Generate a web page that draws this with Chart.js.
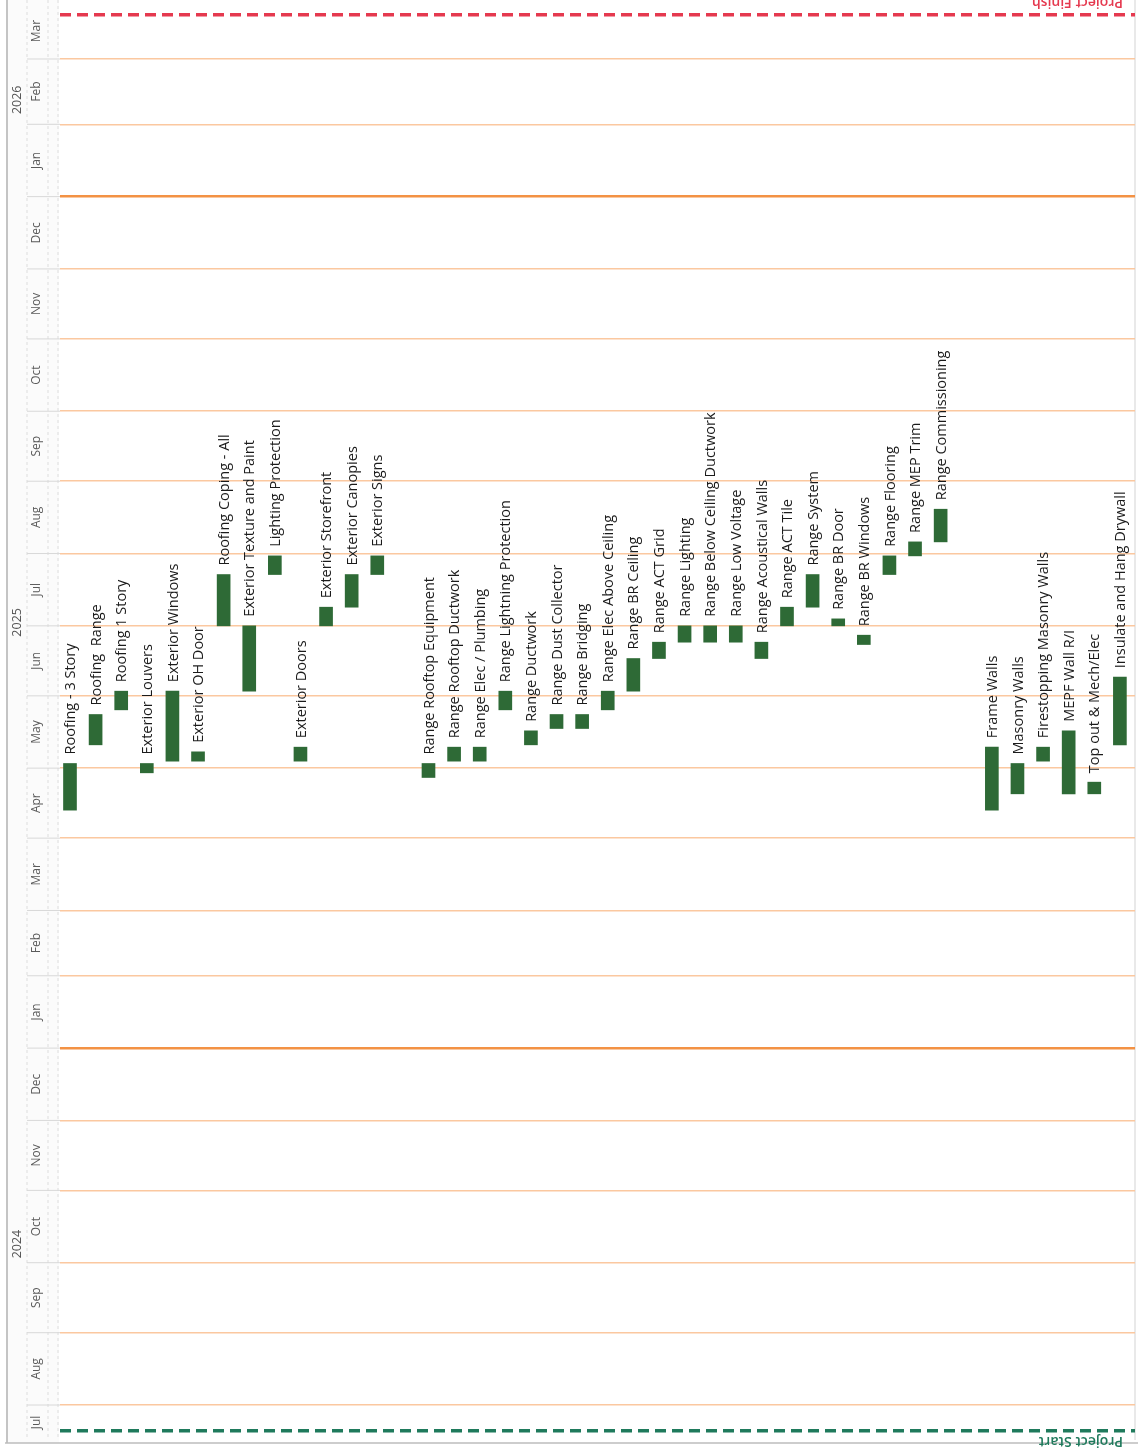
<!DOCTYPE html>
<html>
<head>
<meta charset="utf-8">
<script src="https://cdn.jsdelivr.net/npm/chart.js@4.4.0/dist/chart.umd.min.js"></script>
<style>
  html, body { margin: 0; padding: 0; background: #fff; }
  #wrap { width: 1138px; height: 1448px; }
</style>
</head>
<body>
<div id="wrap"><canvas id="gantt" width="1138" height="1448"></canvas></div>
<script>
// task names, in column order (three groups)
const taskNames = [
  'Roofing - 3 Story', 'Roofing  Range', 'Roofing 1 Story', 'Exterior Louvers', 'Exterior Windows',
  'Exterior OH Door', 'Roofing Coping - All', 'Exterior Texture and Paint', 'Lighting Protection',
  'Exterior Doors', 'Exterior Storefront', 'Exterior Canopies', 'Exterior Signs',

  'Range Rooftop Equipment', 'Range Rooftop Ductwork', 'Range Elec / Plumbing', 'Range Lightning Protection',
  'Range Ductwork', 'Range Dust Collector', 'Range Bridging', 'Range Elec Above Ceiling', 'Range BR Ceiling',
  'Range ACT Grid', 'Range Lighting', 'Range Below Ceiling Ductwork', 'Range Low Voltage',
  'Range Acoustical Walls', 'Range ACT Tile', 'Range System', 'Range BR Door', 'Range BR Windows',
  'Range Flooring', 'Range MEP Trim', 'Range Commissioning',

  'Frame Walls', 'Masonry Walls', 'Firestopping Masonry Walls', 'MEPF Wall R/I', 'Top out & Mech/Elec',
  'Insulate and Hang Drywall'
];
const taskStarts = [
  '2025-04-13', '2025-05-11', '2025-05-26', '2025-04-29', '2025-05-04',
  '2025-05-04', '2025-07-01', '2025-06-03', '2025-07-23',
  '2025-05-04', '2025-07-01', '2025-07-09', '2025-07-23',

  '2025-04-27', '2025-05-04', '2025-05-04', '2025-05-26',
  '2025-05-11', '2025-05-18', '2025-05-18', '2025-05-26', '2025-06-03',
  '2025-06-17', '2025-06-24', '2025-06-24', '2025-06-24',
  '2025-06-17', '2025-07-01', '2025-07-09', '2025-07-01', '2025-06-23',
  '2025-07-23', '2025-07-31', '2025-08-06',

  '2025-04-13', '2025-04-20', '2025-05-04', '2025-04-20', '2025-04-20',
  '2025-05-11'
];
const taskEnds = [
  '2025-05-03', '2025-05-24', '2025-06-03', '2025-05-03', '2025-06-03',
  '2025-05-08', '2025-07-23', '2025-07-01', '2025-07-31',
  '2025-05-10', '2025-07-09', '2025-07-23', '2025-07-31',

  '2025-05-03', '2025-05-10', '2025-05-10', '2025-06-03',
  '2025-05-17', '2025-05-24', '2025-05-24', '2025-06-03', '2025-06-17',
  '2025-06-24', '2025-07-01', '2025-07-01', '2025-07-01',
  '2025-06-24', '2025-07-09', '2025-07-23', '2025-07-04', '2025-06-27',
  '2025-07-31', '2025-08-06', '2025-08-20',

  '2025-05-10', '2025-05-03', '2025-05-10', '2025-05-17', '2025-04-25',
  '2025-06-09'
];
const groupSizes = [13, 21, 6];

const monthNames = ['Jan', 'Feb', 'Mar', 'Apr', 'May', 'Jun', 'Jul', 'Aug', 'Sep', 'Oct', 'Nov', 'Dec'];
const axisStart = '2024-07-17';
const axisEnd = '2026-03-25';
const projectStart = '2024-07-21';
const projectFinish = '2026-03-20';

// dates -> day numbers
function dayNum(s) {
  const p = s.split('-').map(Number);
  return Date.UTC(p[0], p[1] - 1, p[2]) / 86400000;
}
function dayOf(y, m) { return Date.UTC(y, m, 1) / 86400000; }

const minDay = dayNum(axisStart);
const maxDay = dayNum(axisEnd);

// column slot for each task, one empty slot between groups
const slots = [];
let s = 0;
groupSizes.forEach(n => {
  for (let i = 0; i < n; i++) slots.push(s++);
  s++;
});

// month boundaries and month / year label spans
const monthSpans = [];
for (let y = 2024; y <= 2026; y++) {
  for (let m = 0; m < 12; m++) {
    const a = dayOf(y, m), b = dayOf(y, m + 1);
    if (b <= minDay || a >= maxDay) continue;
    monthSpans.push({ y: y, m: m, from: Math.max(a, minDay), to: Math.min(b, maxDay), start: a });
  }
}
const boundaries = monthSpans.map(o => o.start).filter(v => v > minDay);

const barColor = '#2e6a36';

const ganttDecor = {
  id: 'ganttDecor',
  beforeDraw(chart) {
    const c = chart.ctx, area = chart.chartArea;
    const ys = chart.scales.y;
    c.save();
    // left date panel
    c.fillStyle = '#fbfbfb';
    c.fillRect(7, 0, area.left - 8, area.bottom + 3);
    c.strokeStyle = '#c4c4c4';
    c.lineWidth = 2;
    c.beginPath(); c.moveTo(7, 0); c.lineTo(7, area.bottom + 3); c.stroke();
    c.strokeStyle = '#dedede';
    c.lineWidth = 1;
    c.setLineDash([3, 3]);
    [27, 48, area.left - 2].forEach(x => {
      c.beginPath(); c.moveTo(x, 0); c.lineTo(x, area.bottom); c.stroke();
    });
    c.setLineDash([]);
    boundaries.forEach(v => {
      const py = ys.getPixelForValue(v);
      c.strokeStyle = '#d8d8d8';
      c.beginPath(); c.moveTo(27, py); c.lineTo(area.left, py); c.stroke();
    });
    // frame lines
    c.strokeStyle = '#bdbdbd';
    c.lineWidth = 1.5;
    c.beginPath(); c.moveTo(5, area.bottom + 3); c.lineTo(chart.width, area.bottom + 3); c.stroke();
    c.strokeStyle = '#e2e2e2';
    c.beginPath(); c.moveTo(area.right, 0); c.lineTo(area.right, area.bottom); c.stroke();
    c.restore();
  },
  afterDatasetsDraw(chart) {
    const c = chart.ctx, area = chart.chartArea;
    const ys = chart.scales.y;
    c.save();

    // month labels
    c.fillStyle = '#5a5a5a';
    c.font = '12px "Open Sans", sans-serif';
    c.textAlign = 'center';
    c.textBaseline = 'middle';
    monthSpans.forEach(o => {
      const py = (ys.getPixelForValue(o.from) + ys.getPixelForValue(o.to)) / 2;
      c.save();
      c.translate(37, py);
      c.rotate(-Math.PI / 2);
      c.fillText(monthNames[o.m], 0, 0);
      c.restore();
    });
    // year labels
    c.fillStyle = '#555';
    c.font = '12.5px "Open Sans", sans-serif';
    [2024, 2025, 2026].forEach(yr => {
      const a = Math.max(dayOf(yr, 0), minDay), b = Math.min(dayOf(yr + 1, 0), maxDay);
      const py = (ys.getPixelForValue(a) + ys.getPixelForValue(b)) / 2;
      c.save();
      c.translate(17, py);
      c.rotate(-Math.PI / 2);
      c.fillText(String(yr), 0, 0);
      c.restore();
    });

    // task labels above bars
    c.fillStyle = '#1b1b1b';
    c.font = '14.5px "Open Sans", sans-serif';
    c.textAlign = 'left';
    c.textBaseline = 'middle';
    chart.getDatasetMeta(0).data.forEach((bar, i) => {
      const top = Math.min(bar.y, bar.base);
      c.save();
      c.translate(bar.x + 1, top - 9);
      c.rotate(-Math.PI / 2);
      c.fillText(taskNames[i], 0, 0);
      c.restore();
    });

    // project start / finish
    const lines = [
      { v: dayNum(projectStart), color: '#1f7a5c', text: 'Project Start', below: true },
      { v: dayNum(projectFinish), color: '#e5394f', text: 'Project Finish', below: false }
    ];
    lines.forEach(l => {
      const py = ys.getPixelForValue(l.v);
      c.strokeStyle = l.color;
      c.lineWidth = 3.5;
      c.setLineDash([11, 6]);
      c.beginPath(); c.moveTo(area.left, py); c.lineTo(area.right, py); c.stroke();
      c.setLineDash([]);
      c.fillStyle = l.color;
      c.font = '600 14px "Open Sans", sans-serif';
      c.textAlign = 'left';
      c.textBaseline = 'alphabetic';
      c.save();
      c.translate(area.right - 12, l.below ? py + 6 : py - 17);
      c.rotate(Math.PI);
      c.fillText(l.text, 0, 0);
      c.restore();
    });
    c.restore();
  }
};

new Chart(document.getElementById('gantt'), {
  type: 'bar',
  data: {
    datasets: [{
      label: 'Tasks',
      data: taskNames.map((n, i) => ({ x: slots[i], y: [dayNum(taskStarts[i]), dayNum(taskEnds[i])] })),
      backgroundColor: barColor,
      borderWidth: 0,
      barThickness: 13
    }]
  },
  options: {
    responsive: false,
    animation: false,
    layout: { padding: { left: 60, right: 3, top: 3, bottom: 8 } },
    plugins: {
      legend: { display: false },
      tooltip: { enabled: false }
    },
    scales: {
      x: {
        type: 'linear',
        display: false,
        offset: false,
        min: -0.39,
        max: 41.59
      },
      y: {
        type: 'linear',
        min: minDay,
        max: maxDay,
        afterBuildTicks: axis => { axis.ticks = boundaries.map(v => ({ value: v })); },
        ticks: { display: false },
        border: { display: false },
        grid: {
          drawTicks: false,
          color: ctx => (new Date(ctx.tick.value * 86400000).getUTCMonth() === 0 ? '#f39244' : '#fbc8a0'),
          lineWidth: ctx => (new Date(ctx.tick.value * 86400000).getUTCMonth() === 0 ? 2.5 : 1.5)
        }
      }
    }
  },
  plugins: [ganttDecor]
});
</script>
</body>
</html>
